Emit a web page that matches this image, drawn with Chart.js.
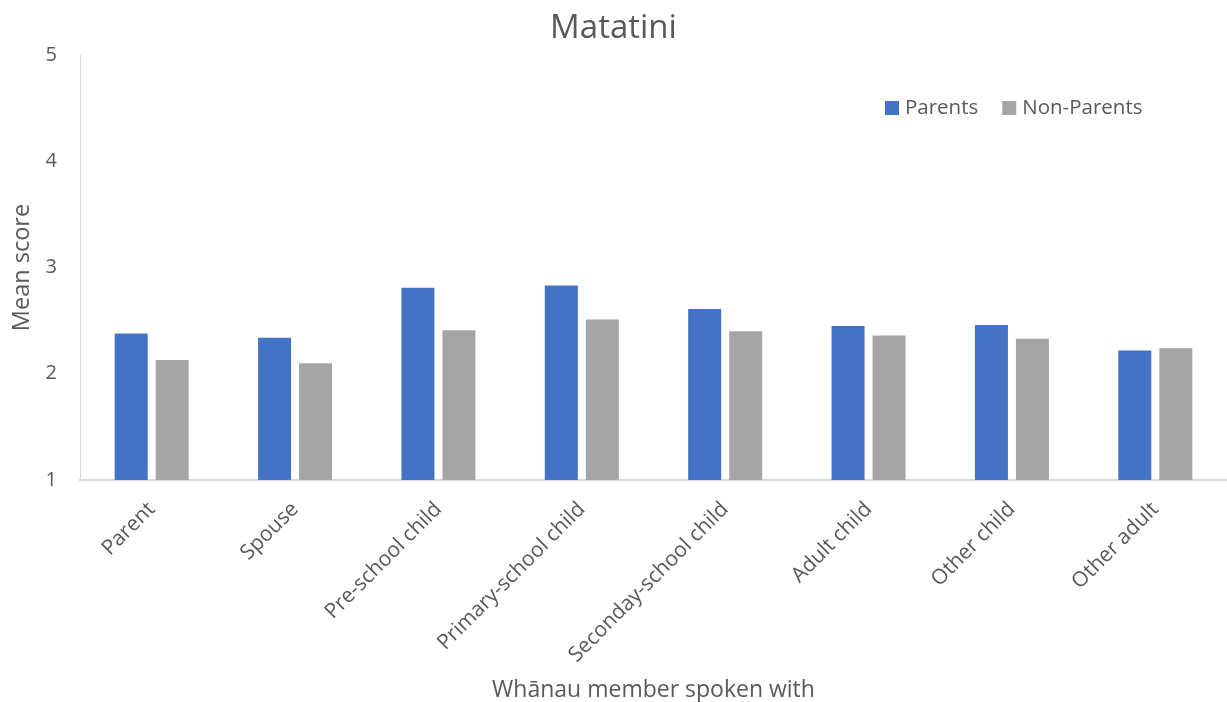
<!DOCTYPE html>
<html>
<head>
<meta charset="utf-8">
<script src="https://cdn.jsdelivr.net/npm/chart.js@4.4.1/dist/chart.umd.min.js"></script>
<style>
  html, body { margin: 0; padding: 0; background: #ffffff; overflow: hidden; }
  #wrap { width: 1227px; height: 702px; }
</style>
</head>
<body>
<div id="wrap"><canvas id="chart" width="1227" height="702"></canvas></div>
<script>
// Whānau member categories and mean scores per group
const categories = ['Parent', 'Spouse', 'Pre-school child', 'Primary-school child',
  'Seconday-school child', 'Adult child', 'Other child', 'Other adult'];
const parentsScores = [2.38, 2.34, 2.81, 2.83, 2.61, 2.45, 2.46, 2.22];
const nonParentsScores = [2.13, 2.10, 2.41, 2.51, 2.40, 2.36, 2.33, 2.24];
const yTickValues = [1, 2, 3, 4, 5];

const TEXT = '#595959';
const AXIS = '#D9D9D9';
const FONT = '"Open Sans", "Noto Sans", sans-serif';
Chart.defaults.font.family = FONT;
Chart.defaults.color = TEXT;

// Legend drawn inside the plot area, top right
const insideLegend = {
  id: 'insideLegend',
  afterDraw(chart) {
    const { ctx, chartArea } = chart;
    ctx.save();
    ctx.font = '20.5px ' + FONT;
    ctx.textBaseline = 'middle';
    ctx.textAlign = 'left';
    let x = chartArea.left + 805;
    const y = chartArea.top + 53;
    chart.data.datasets.forEach(ds => {
      ctx.fillStyle = ds.backgroundColor;
      ctx.fillRect(x, y - 7, 14, 14);
      ctx.fillStyle = TEXT;
      ctx.fillText(ds.label, x + 20, y);
      x += 20 + ctx.measureText(ds.label).width + 24;
    });
    ctx.restore();
  }
};

new Chart(document.getElementById('chart'), {
  type: 'bar',
  data: {
    labels: categories,
    datasets: [
      { label: 'Parents', data: parentsScores, backgroundColor: '#4472C4',
        categoryPercentage: 0.572, barPercentage: 0.805 },
      { label: 'Non-Parents', data: nonParentsScores, backgroundColor: '#A5A5A5',
        categoryPercentage: 0.572, barPercentage: 0.805 }
    ]
  },
  options: {
    responsive: false,
    animation: false,
    devicePixelRatio: 1,
    layout: { padding: { left: 0, right: 0, top: 0, bottom: 0 } },
    plugins: {
      legend: { display: false },
      tooltip: { enabled: false },
      title: {
        display: true,
        text: 'Matatini',
        color: TEXT,
        font: { size: 33, weight: 'normal', lineHeight: 1.2 },
        padding: { top: 9, bottom: 6.4 }
      }
    },
    scales: {
      x: {
        grid: { display: false, drawTicks: false },
        border: { display: true, color: AXIS, width: 2 },
        ticks: {
          color: TEXT,
          font: { size: 21 },
          minRotation: 45,
          maxRotation: 45,
          padding: 17,
          autoSkip: false
        },
        title: {
          display: true,
          text: 'Whānau member spoken with',
          color: TEXT,
          font: { size: 23, lineHeight: 1.0 },
          padding: { top: 0, bottom: 0 }
        },
        afterFit(scale) { scale.height = 222; }
      },
      y: {
        min: 1,
        max: 5,
        afterBuildTicks(scale) { scale.ticks = yTickValues.map(v => ({ value: v })); },
        grid: { display: false, drawTicks: false },
        border: { display: true, color: AXIS, width: 1 },
        ticks: { color: TEXT, font: { size: 20 }, padding: 23 },
        title: {
          display: true,
          text: 'Mean score',
          color: TEXT,
          font: { size: 23.5, lineHeight: 1.2 },
          padding: { top: 8, bottom: 0 }
        },
        afterFit(scale) { scale.width = 80; }
      }
    }
  },
  plugins: [insideLegend]
});
</script>
</body>
</html>
